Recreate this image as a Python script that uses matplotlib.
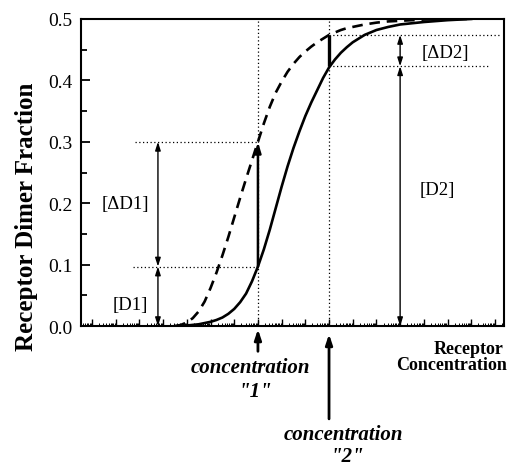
import numpy as np
import matplotlib.pyplot as plt
from matplotlib.ticker import LogLocator, NullFormatter, MultipleLocator, FormatStrFormatter

plt.rcParams['font.family'] = ['Liberation Serif', 'DejaVu Serif']

# log10 of receptor concentration (concentration "1" = 10^0)
log_conc = [-3.5, -3.25, -3, -2.75, -2.5, -2.25, -2, -1.75, -1.5, -1.25,
            -1, -0.75, -0.5, -0.25, 0, 0.25, 0.5, 0.75, 1, 1.25, 1.5, 1.75,
            2, 2.25, 2.5, 2.75, 3, 3.25, 3.5, 3.75, 4, 4.5, 5, 5.5, 6, 7, 8, 9]
solid_frac = [0.0, 0.0005, 0.001, 0.002, 0.003, 0.005, 0.007, 0.010, 0.014,
              0.020, 0.028, 0.039, 0.053, 0.073, 0.097, 0.125, 0.157, 0.192,
              0.227, 0.260, 0.290, 0.317, 0.342, 0.364, 0.384, 0.404, 0.421,
              0.434, 0.445, 0.454, 0.462, 0.474, 0.482, 0.487, 0.491, 0.495,
              0.498, 0.500]
dashed_frac = [0.0, 0.002, 0.006, 0.013, 0.024, 0.040, 0.062, 0.087, 0.115,
               0.145, 0.177, 0.209, 0.240, 0.270, 0.300, 0.330, 0.357, 0.380,
               0.398, 0.414, 0.427, 0.438, 0.447, 0.455, 0.462, 0.468, 0.474,
               0.478, 0.482, 0.485, 0.487, 0.491, 0.494, 0.496, 0.497, 0.499,
               0.500, 0.500]

# marked concentrations and the values read at them
conc1_log, conc2_log = 0, 3
d1, d1_top = 0.097, 0.300
d2, d2_top = 0.423, 0.474

conc = 10.0 ** np.array(log_conc)
c1 = 10.0 ** conc1_log
c2 = 10.0 ** conc2_log


def X(l):
    return 10.0 ** l


fig = plt.figure(figsize=(5.09, 4.64), dpi=100)
ax = fig.add_axes([0.159, 0.295, 0.831, 0.662])

ax.plot(conc, solid_frac, color='black', lw=1.9, solid_joinstyle='round')
ax.plot(conc, dashed_frac, color='black', lw=1.9, linestyle=(0, (4, 2.6)))

ax.set_xscale('log')
ax.set_xlim(X(-7.47), X(10.38))
ax.set_ylim(0, 0.5)

# dotted guide lines
dot = dict(color='black', lw=0.9, linestyle=(0, (1, 2)))
ax.plot([c1, c1], [0, 0.5], **dot)
ax.plot([c2, c2], [0, 0.5], **dot)
ax.plot([X(-5.19), c1], [d1_top, d1_top], **dot)
ax.plot([X(-5.27), c1], [d1, d1], **dot)
ax.plot([c2, X(10.2)], [d2_top, d2_top], **dot)
ax.plot([c2, X(9.79)], [d2, d2], **dot)

# jumps between the curves
ax.annotate('', xy=(c1, d1_top), xytext=(c1, d1),
            arrowprops=dict(arrowstyle='-|>,head_length=0.6,head_width=0.18',
                            color='black', lw=1.8, shrinkA=0, shrinkB=0))
ax.plot([c2, c2], [d2, d2_top], color='black', lw=2.4, solid_capstyle='butt')

# double arrows
arr = dict(arrowstyle='<|-|>,head_length=0.5,head_width=0.16', color='black',
           lw=1.0, shrinkA=0, shrinkB=0)
xa1 = X(-4.22)
xa2 = X(6.0)
ax.annotate('', xy=(xa1, d1_top), xytext=(xa1, d1), arrowprops=arr)
ax.annotate('', xy=(xa1, d1), xytext=(xa1, 0), arrowprops=arr)
ax.annotate('', xy=(xa2, d2_top), xytext=(xa2, d2), arrowprops=arr)
ax.annotate('', xy=(xa2, d2), xytext=(xa2, 0), arrowprops=arr)

lab = dict(fontsize=13.5, ha='center', va='center')
ax.text(X(-5.61), 0.199, '[\u0394D1]', **lab)
ax.text(X(-5.40), 0.036, '[D1]', **lab)
ax.text(X(7.89), 0.446, '[\u0394D2]', **lab)
ax.text(X(7.55), 0.223, '[D2]', **lab)

# arrows under the axis
up = dict(arrowstyle='-|>,head_length=0.6,head_width=0.2', color='black',
          lw=2.0, shrinkA=0, shrinkB=0)
ax.annotate('', xy=(c1, -0.005), xytext=(c1, -0.041), arrowprops=up,
            annotation_clip=False)
ax.annotate('', xy=(c2, -0.013), xytext=(c2, -0.151), arrowprops=up,
            annotation_clip=False)

bi = dict(fontsize=15, fontweight='bold', fontstyle='italic', ha='center',
          va='baseline', clip_on=False)
ax.text(X(-0.30), -0.075, 'concentration', **bi)
ax.text(X(-0.13), -0.114, '"1"', **bi)
ax.text(X(3.59), -0.184, 'concentration', **bi)
ax.text(X(3.75), -0.219, '"2"', **bi)

bo = dict(fontsize=13, fontweight='bold', ha='center', va='baseline',
          clip_on=False)
ax.text(X(8.9), -0.044, 'Receptor', **bo)
ax.text(X(8.18), -0.070, 'Concentration', **bo)

# axes styling
for s in ax.spines.values():
    s.set_linewidth(1.5)
ax.xaxis.set_major_locator(LogLocator(base=10, numticks=60))
ax.xaxis.set_minor_locator(LogLocator(base=10, subs=np.arange(2, 10), numticks=60))
ax.xaxis.set_major_formatter(NullFormatter())
ax.xaxis.set_minor_formatter(NullFormatter())
ax.yaxis.set_major_locator(MultipleLocator(0.1))
ax.yaxis.set_minor_locator(MultipleLocator(0.05))
ax.yaxis.set_major_formatter(FormatStrFormatter('%.1f'))
ax.tick_params(axis='x', which='major', direction='in', length=5, width=1.0)
ax.tick_params(axis='x', which='minor', direction='in', length=2.5, width=0.7)
ax.tick_params(axis='y', which='major', direction='in', length=6.5, width=1.3,
               labelsize=14, pad=6)
ax.tick_params(axis='y', which='minor', direction='in', length=4.3, width=1.3)

ax.set_ylabel('Receptor Dimer Fraction', fontsize=18, fontweight='bold')
ax.yaxis.set_label_coords(-0.102, 0.358)

fig.savefig('out.png', dpi=100)
